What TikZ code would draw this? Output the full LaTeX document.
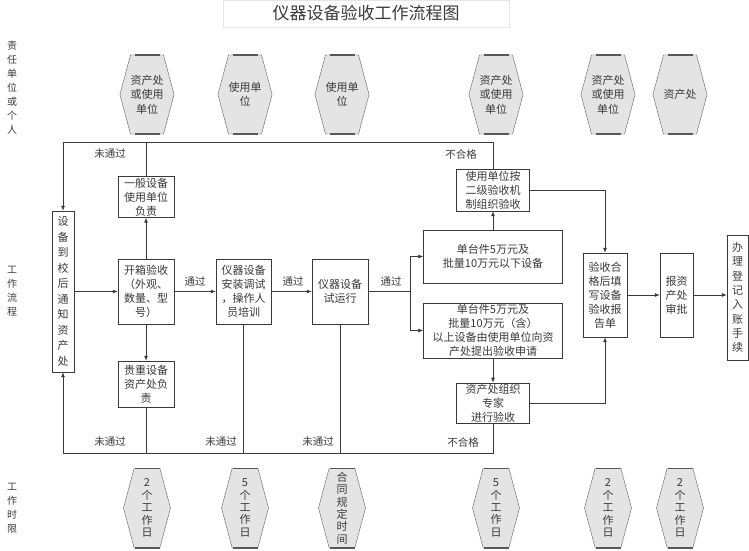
\documentclass[tikz,border=0pt]{standalone}
\usepackage{fontspec}
\setmainfont{Noto Sans CJK SC}
\usepackage{tikz}
\usetikzlibrary{arrows.meta,shapes.symbols,calc}
\definecolor{ink}{HTML}{3A3A3A}
\definecolor{hexfill}{HTML}{E4E4E4}

\begin{document}
\begin{tikzpicture}[x=1pt,y=-1pt,
  box/.style={draw=ink,fill=white,align=center,inner sep=1pt,font=\fontsize{11}{14}\selectfont,text=ink},
  hexa/.style={shape=signal,signal to=west and east,signal pointer angle=150,draw=ink!80,fill=hexfill,minimum width=47pt,minimum height=79pt,inner sep=0pt,align=center,font=\fontsize{11}{14.5}\selectfont,text=ink},
  vhex/.style={hexa,font=\fontsize{11}{12.4}\selectfont},
  rim/.style={draw=ink!85,line width=1.6pt},
  side/.style={align=center,font=\fontsize{10}{14}\selectfont,text=ink},
  lbl/.style={font=\fontsize{10.5}{12}\selectfont,text=ink},
  ln/.style={draw=ink,line width=0.8pt},
  arr/.style={ln,-{Latex[length=5pt,width=4pt]}}]
\useasboundingbox (0,0) rectangle (749,551);
\node[draw=gray!20,minimum width=286pt,minimum height=27pt,font=\fontsize{17}{20}\selectfont,text=ink] (title) at (366,13.5) {仪器设备验收工作流程图};
% row captions
\node[side] (capwho) at (12,88) {责\\任\\单\\位\\或\\个\\人};
\node[side] (capflow) at (12,291) {工\\作\\流\\程};
\node[side] (captime) at (12,508) {工\\作\\时\\限};
% who is responsible (top) and time limits (bottom)
\foreach \n/\x/\t in {t1/147/{资产处\\或使用\\单位},t2/245/{使用单\\位},t3/342/{使用单\\位},t4/496/{资产处\\或使用\\单位},t5/608/{资产处\\或使用\\单位},t6/680/{资产处}}{
  \node[hexa] (\n) at (\x,94.5) {\t};}
\foreach \n/\x/\t in {b1/147/{2\\个\\工\\作\\日},b2/245/{5\\个\\工\\作\\日},b3/342/{合\\同\\规\\定\\时\\间},b4/496/{5\\个\\工\\作\\日},b5/608/{2\\个\\工\\作\\日},b6/680/{2\\个\\工\\作\\日}}{
  \node[vhex] (\n) at (\x,508) {\t};}
\foreach \n in {t1,t2,t3,t4,t5,t6,b1,b2,b3,b4,b5,b6}{
  \draw[rim] ($(\n.north)+(-12.5,0)$) -- ($(\n.north)+(12.5,0)$);
  \draw[rim] ($(\n.south)+(-12.5,0)$) -- ($(\n.south)+(12.5,0)$);}
% flow boxes
\node[box,minimum width=22pt,minimum height=161pt,font=\fontsize{11}{15.5}\selectfont] (notice) at (63,291.5) {设\\备\\到\\校\\后\\通\\知\\资\\产\\处};
\node[box,minimum width=56pt,minimum height=41pt] (general) at (146,197) {一般设备\\使用单位\\负责};
\node[box,minimum width=56pt,minimum height=65pt] (unpack) at (146,291.5) {开箱验收\\（外观、\\数量、型\\号）};
\node[box,minimum width=56pt,minimum height=46pt] (valuable) at (146,384) {贵重设备\\资产处负\\责};
\node[box,minimum width=55pt,minimum height=65pt] (install) at (243.5,291.5) {仪器设备\\安装调试\\，操作人\\员培训};
\node[box,minimum width=56pt,minimum height=65pt] (trial) at (340,291.5) {仪器设备\\试运行};
\node[box,minimum width=139pt,minimum height=53pt] (small) at (493,256.5) {单台件5万元及\\批量10万元以下设备};
\node[box,minimum width=139pt,minimum height=55pt] (large) at (493,330.5) {单台件5万元及\\批量10万元（含）\\以上设备由使用单位向资\\产处提出验收申请};
\node[box,minimum width=73pt,minimum height=42pt] (second) at (493,190) {使用单位按\\二级验收机\\制组织验收};
\node[box,minimum width=73pt,minimum height=40pt] (expert) at (493,403) {资产处组织\\专家\\进行验收};
\node[box,minimum width=44pt,minimum height=84pt] (report) at (605,295) {验收合\\格后填\\写设备\\验收报\\告单};
\node[box,minimum width=33pt,minimum height=84pt] (approve) at (676.5,295) {报资\\产处\\审批};
\node[box,minimum width=21pt,minimum height=125pt,font=\fontsize{11}{14.3}\selectfont] (register) at (737.5,297.5) {办\\理\\登\\记\\入\\账\\手\\续};
% main line
\coordinate (split) at (410,291.5);
\draw[arr] (notice.east) -- (unpack.west);
\draw[arr] (unpack.north) -- (general.south);
\draw[arr] (unpack.south) -- (valuable.north);
\draw[arr] (unpack.east) -- (install.west);
\draw[arr] (install.east) -- (trial.west);
\draw[ln] (trial.east) -- (split);
\draw[arr] (split) |- (small.west);
\draw[arr] (split) |- (large.west);
\draw[arr] (small.north) -- (second.south);
\draw[arr] (large.south) -- (expert.north);
\draw[arr] (second.east) -| (report.north);
\draw[arr] (expert.east) -| (report.south);
\draw[arr] (report.east) -- (approve.west);
\draw[arr] (approve.east) -- (approve.east -| register.west);
\node[lbl] (ok1) at (195,281) {通过};
\node[lbl] (ok2) at (293,281) {通过};
\node[lbl] (ok3) at (391,281) {通过};
% failed checks go back to the left
\coordinate (toprail) at (63,142);
\coordinate (botrail) at (63,453);
\draw[arr] (second.north) |- (toprail) -- (notice.north);
\draw[ln] (general.north) -- (general.north |- toprail);
\draw[arr] (expert.south) |- (botrail) -- (notice.south);
\foreach \n in {valuable,install,trial}{\draw[ln] (\n.south) -- (\n.south |- botrail);}
\node[lbl] (no1) at (110,154) {未通过};
\node[lbl] (bad1) at (461,154) {不合格};
\node[lbl] (no2) at (110,442) {未通过};
\node[lbl] (no3) at (221,442) {未通过};
\node[lbl] (no4) at (318,442) {未通过};
\node[lbl] (bad2) at (463,442) {不合格};
\end{tikzpicture}
\end{document}
